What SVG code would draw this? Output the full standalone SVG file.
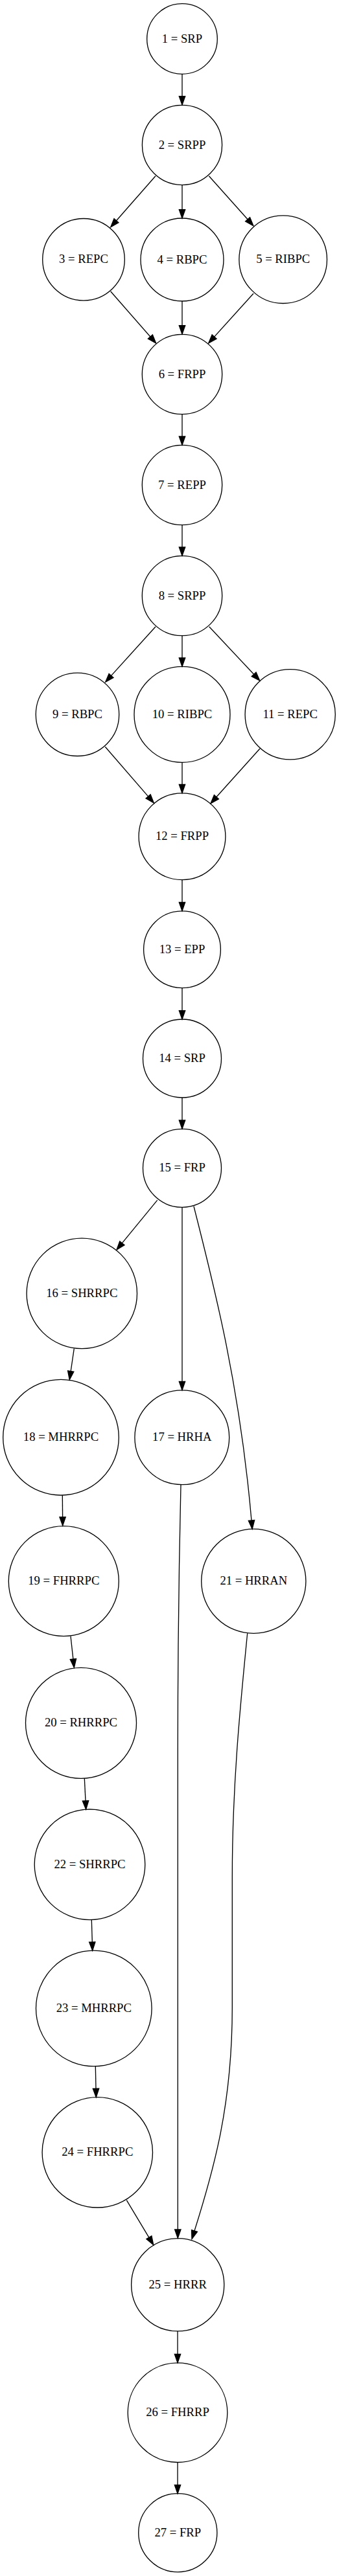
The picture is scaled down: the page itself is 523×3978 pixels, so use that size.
<svg xmlns="http://www.w3.org/2000/svg" width="523" height="3978" viewBox="0 0 523 3978">
<style>
.n ellipse{fill:none;stroke:#000;stroke-width:1.33}
.n text{font-family:"Liberation Serif","Times New Roman",serif;font-size:18.67px;text-anchor:middle;fill:#000}
#edges path{fill:none;stroke:#000;stroke-width:1.33;marker-end:url(#ah)}
</style>
<defs>
<marker id="ah" markerUnits="userSpaceOnUse" markerWidth="16" markerHeight="12" refX="0" refY="6" orient="auto" viewBox="0 0 16 12" overflow="visible">
<path d="M0,1.33 L13.3,6 L0,10.67 z" fill="#000" stroke="#000" stroke-width="1.33"/>
</marker>
</defs>
<rect width="523" height="3978" fill="#fff"/>
<g id="edges">
<path d="M281,114.3 L281,148.7"/>
<path d="M240,271.7 L179.5,340.7"/>
<path d="M281,285.7 L281,323.7"/>
<path d="M322.3,271.7 L382.1,338.8"/>
<path d="M170.7,450 L231.9,520"/>
<path d="M281,465 L281,502.7"/>
<path d="M391,453.3 L330.6,520.1"/>
<path d="M281,639.7 L281,674"/>
<path d="M281,810.7 L281,845"/>
<path d="M240,967.7 L171.6,1043.4"/>
<path d="M281,982 L281,1016"/>
<path d="M322.7,967.7 L391.6,1041.3"/>
<path d="M162.3,1153.3 L228.6,1229.9"/>
<path d="M281,1177.3 L281,1211.4"/>
<path d="M401,1156 L333.9,1230.8"/>
<path d="M281,1358.7 L281,1393.4"/>
<path d="M281,1525.7 L281,1560.7"/>
<path d="M281,1695 L281,1730"/>
<path d="M242.7,1853.3 L188.4,1919.7"/>
<path d="M281,1864.3 L281,2133.4"/>
<path d="M299,1863 C330,1985 370,2140 388,2348"/>
<path d="M114.3,2082.7 L109.2,2117.5"/>
<path d="M96.3,2309.3 L96.6,2342.7"/>
<path d="M109,2526.7 L112.9,2562.1"/>
<path d="M130.3,2746.3 L132,2781"/>
<path d="M141.3,2964.7 L142.3,2999"/>
<path d="M147.3,3190.7 L148,3225.4"/>
<path d="M195.3,3397.7 L229.9,3455.3"/>
<path d="M279,2293 C276.5,2400 274.3,2500 274.3,2700 L274.3,3443"/>
<path d="M381.7,2522.3 C370,2640 358.3,2760 358.3,2900 L358.3,3100 C358.3,3250 330,3350 300,3445"/>
<path d="M274,3600 L274,3635.4"/>
<path d="M274,3802.7 L274,3837.4"/>
</g>
<g id="n1" class="n"><ellipse cx="281" cy="60" rx="54.3" ry="54.3"/><text x="281" y="65.6">1 = SRP</text></g>
<g id="n2" class="n"><ellipse cx="281" cy="224" rx="61.6" ry="61.6"/><text x="281" y="229.6">2 = SRPP</text></g>
<g id="n3" class="n"><ellipse cx="129" cy="400.8" rx="63.3" ry="63.3"/><text x="129" y="406.4">3 = REPC</text></g>
<g id="n4" class="n"><ellipse cx="281" cy="401" rx="64" ry="64"/><text x="281" y="406.6">4 = RBPC</text></g>
<g id="n5" class="n"><ellipse cx="436.7" cy="400.7" rx="67.8" ry="67.8"/><text x="436.7" y="406.3">5 = RIBPC</text></g>
<g id="n6" class="n"><ellipse cx="281" cy="578" rx="61.7" ry="61.7"/><text x="281" y="583.6">6 = FRPP</text></g>
<g id="n7" class="n"><ellipse cx="281" cy="749" rx="61.7" ry="61.7"/><text x="281" y="754.6">7 = REPP</text></g>
<g id="n8" class="n"><ellipse cx="281" cy="920" rx="61.7" ry="61.7"/><text x="281" y="925.6">8 = SRPP</text></g>
<g id="n9" class="n"><ellipse cx="119.5" cy="1103.3" rx="64.2" ry="64.2"/><text x="119.5" y="1108.9">9 = RBPC</text></g>
<g id="n10" class="n"><ellipse cx="281" cy="1103.3" rx="74" ry="74"/><text x="281" y="1108.9">10 = RIBPC</text></g>
<g id="n11" class="n"><ellipse cx="447.7" cy="1103.2" rx="69.6" ry="69.6"/><text x="447.7" y="1108.8">11 = REPC</text></g>
<g id="n12" class="n"><ellipse cx="281" cy="1291.7" rx="66.9" ry="66.9"/><text x="281" y="1297.3">12 = FRPP</text></g>
<g id="n13" class="n"><ellipse cx="281" cy="1466.2" rx="59.4" ry="59.4"/><text x="281" y="1471.8">13 = EPP</text></g>
<g id="n14" class="n"><ellipse cx="281" cy="1634.5" rx="60.5" ry="60.5"/><text x="281" y="1640.1">14 = SRP</text></g>
<g id="n15" class="n"><ellipse cx="281" cy="1803.8" rx="60.5" ry="60.5"/><text x="281" y="1809.4">15 = FRP</text></g>
<g id="n16" class="n"><ellipse cx="126.3" cy="1997.4" rx="85.2" ry="85.2"/><text x="126.3" y="2003">16 = SHRRPC</text></g>
<g id="n17" class="n"><ellipse cx="280.8" cy="2219.8" rx="72.9" ry="72.9"/><text x="280.8" y="2225.4">17 = HRHA</text></g>
<g id="n18" class="n"><ellipse cx="94" cy="2219.7" rx="89.3" ry="89.3"/><text x="94" y="2225.3">18 = MHRRPC</text></g>
<g id="n19" class="n"><ellipse cx="98.3" cy="2441.7" rx="85" ry="85"/><text x="98.3" y="2447.3">19 = FHRRPC</text></g>
<g id="n20" class="n"><ellipse cx="125" cy="2660.8" rx="85.5" ry="85.5"/><text x="125" y="2666.4">20 = RHRRPC</text></g>
<g id="n21" class="n"><ellipse cx="391.3" cy="2441.8" rx="80.6" ry="80.6"/><text x="391.3" y="2447.4">21 = HRRAN</text></g>
<g id="n22" class="n"><ellipse cx="138.5" cy="2879.3" rx="85.3" ry="85.3"/><text x="138.5" y="2884.9">22 = SHRRPC</text></g>
<g id="n23" class="n"><ellipse cx="144.8" cy="3101.5" rx="89.3" ry="89.3"/><text x="144.8" y="3107.1">23 = MHRRPC</text></g>
<g id="n24" class="n"><ellipse cx="150.3" cy="3323.8" rx="85.2" ry="85.2"/><text x="150.3" y="3329.4">24 = FHRRPC</text></g>
<g id="n25" class="n"><ellipse cx="274.2" cy="3528.3" rx="71.6" ry="71.6"/><text x="274.2" y="3533.9">25 = HRRR</text></g>
<g id="n26" class="n"><ellipse cx="274" cy="3725.7" rx="76.8" ry="76.8"/><text x="274" y="3731.3">26 = FHRRP</text></g>
<g id="n27" class="n"><ellipse cx="274.3" cy="3911.2" rx="60.6" ry="60.6"/><text x="274.3" y="3916.8">27 = FRP</text></g>
</svg>
